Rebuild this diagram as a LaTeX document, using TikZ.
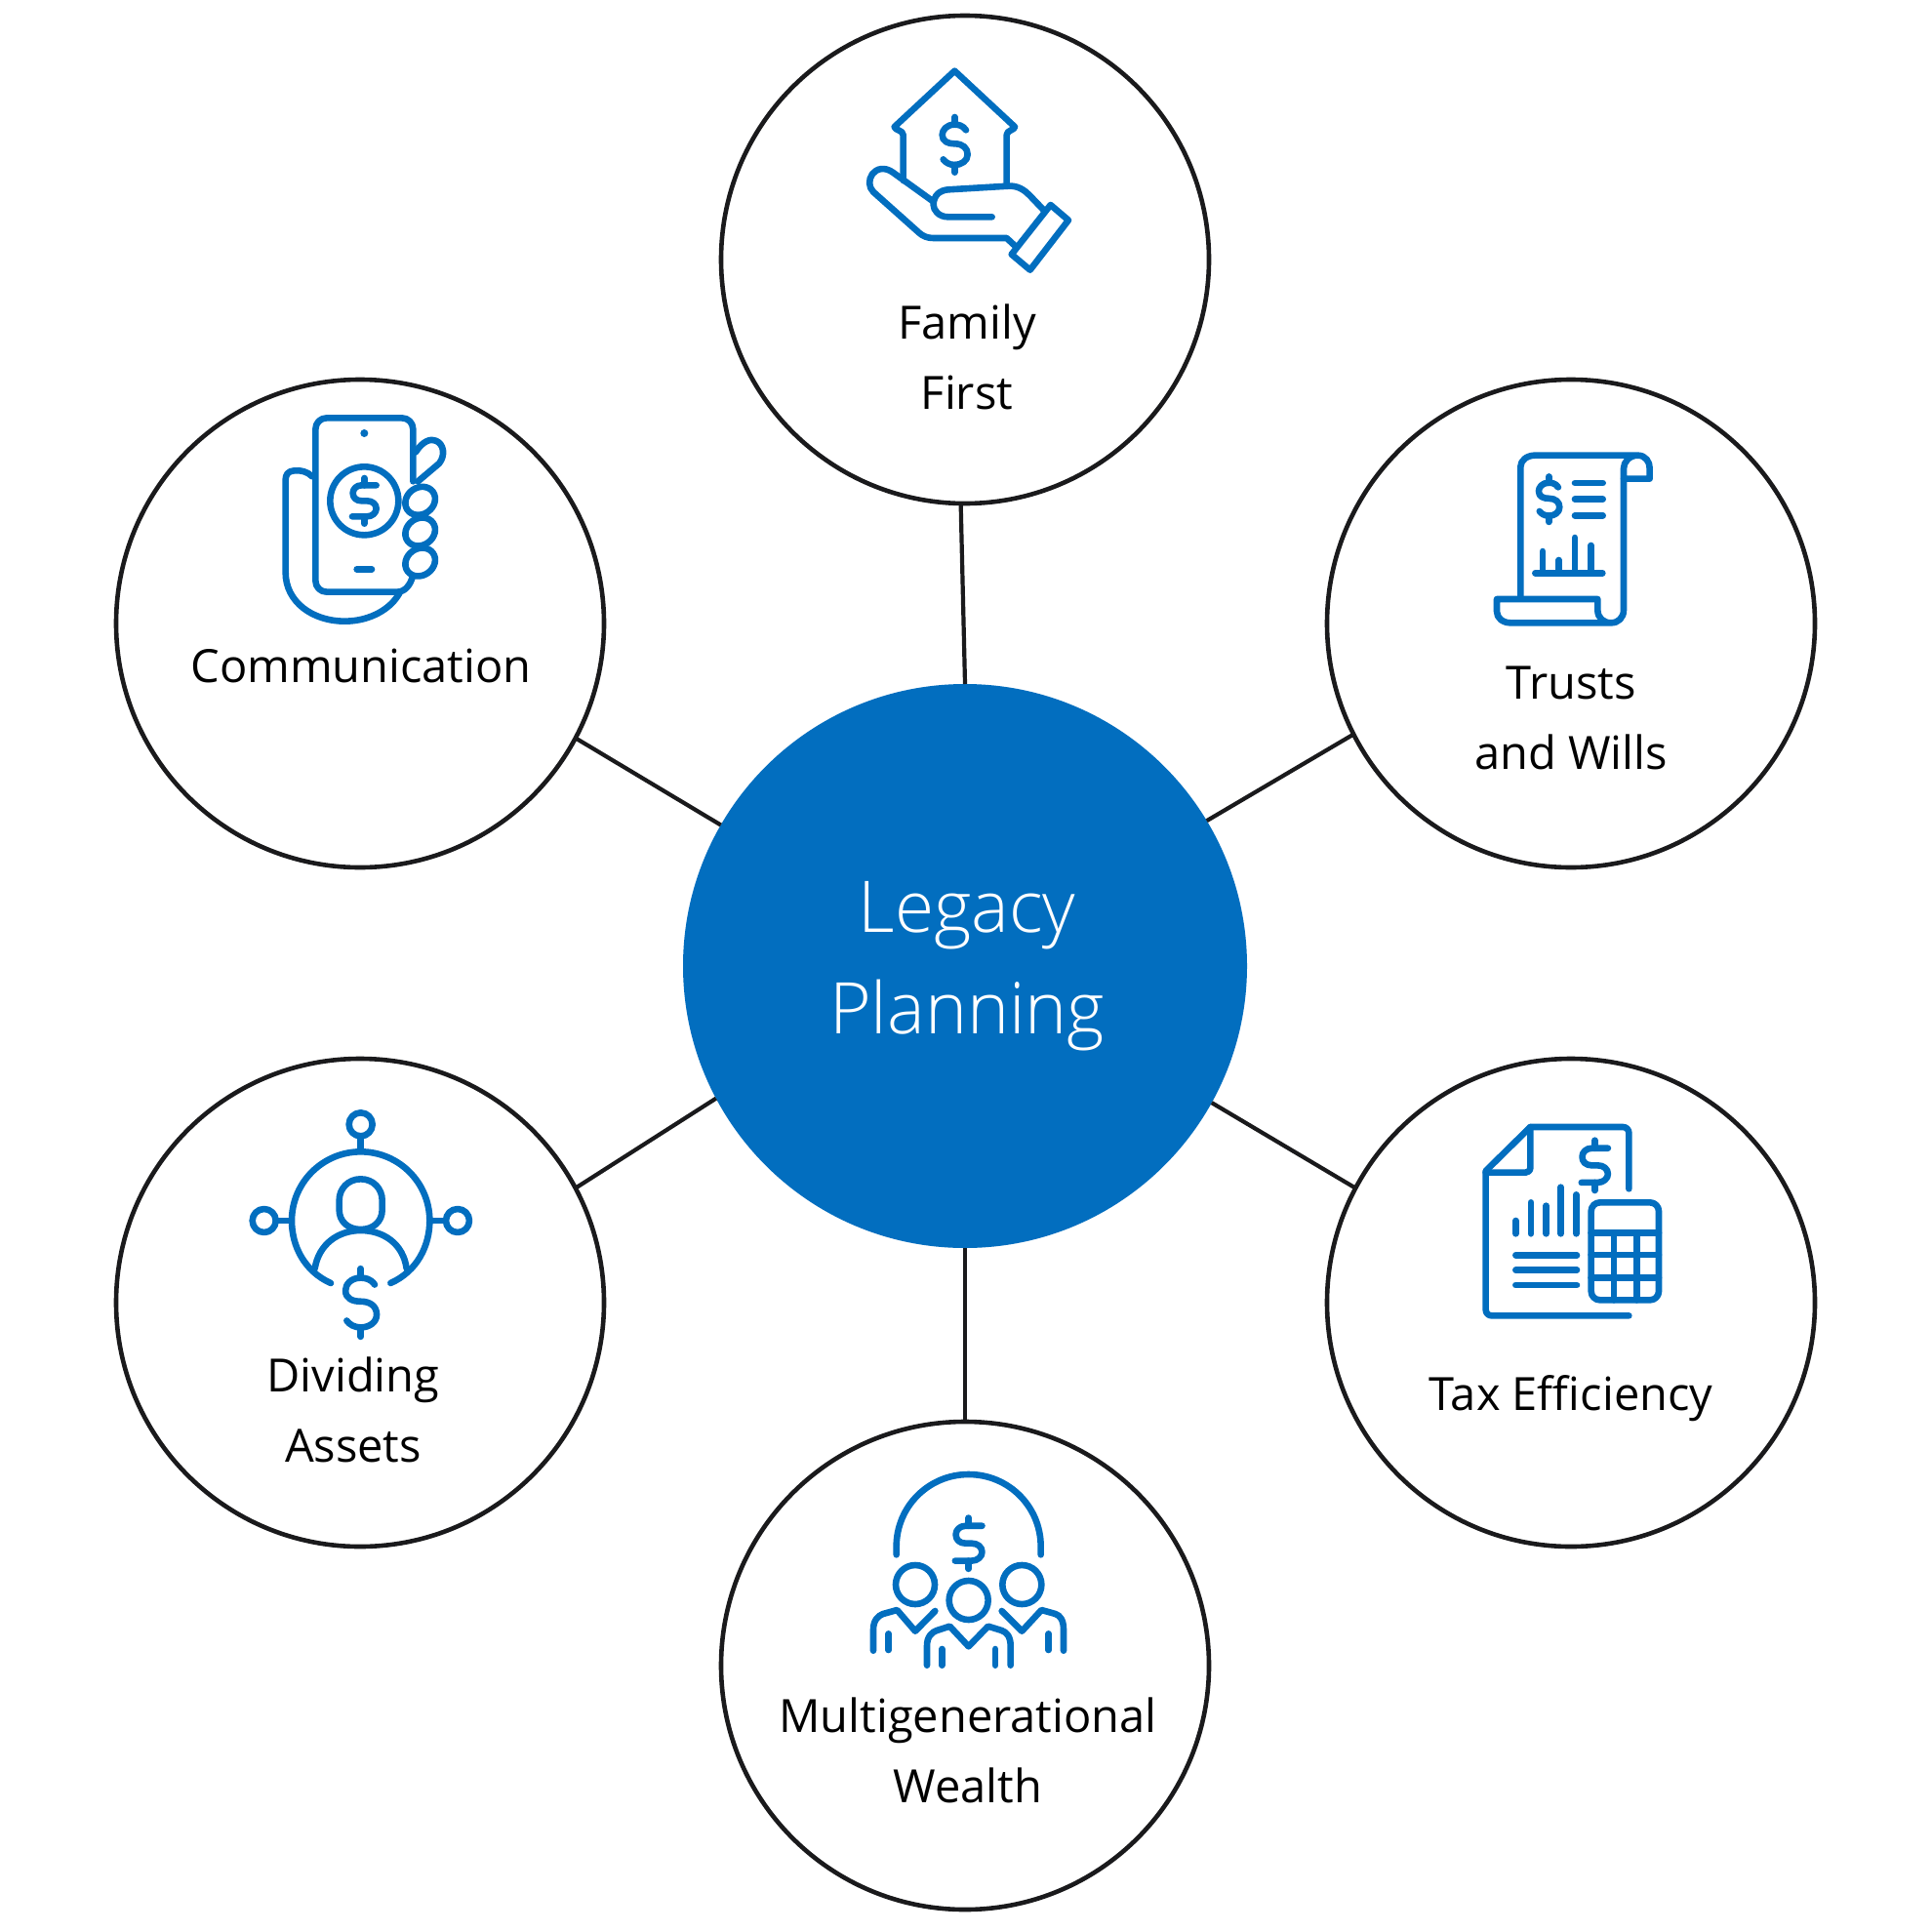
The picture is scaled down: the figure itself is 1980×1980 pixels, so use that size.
\documentclass[tikz,border=0pt]{standalone}
\usepackage{fontspec}
\setmainfont{Open Sans}
\newfontfamily\oslight{Open Sans Light}
\definecolor{iconblue}{HTML}{026EBF}
\definecolor{ringblack}{HTML}{1A1A1C}
\tikzset{
  ring/.style={circle,draw=ringblack,line width=4.6pt,fill=white,minimum size=500pt,inner sep=0pt,outer sep=0pt},
  hub/.style={circle,fill=iconblue,minimum size=578pt,inner sep=0pt,outer sep=0pt},
  link/.style={draw=ringblack,line width=4.2pt},
  lab/.style={align=center,text=black,font=\fontsize{47}{72}\selectfont,inner sep=0pt},
  hublab/.style={align=center,text=white,font=\oslight\fontsize{73}{104}\selectfont,inner sep=0pt},
  icon/.style={draw=iconblue,line width=6.6pt,line cap=round,line join=round},
  zoomed/.style={x=0.33333pt,y=-0.33333pt},
  dollarflat/.pic={
    \draw[icon] (37,-48) -- (-8,-48) .. controls (-25,-48) and (-35,-36) .. (-35,-24) .. controls (-35,-10) and (-25,0) .. (-8,0) -- (8,0) .. controls (25,0) and (37,10) .. (37,24) .. controls (37,36) and (25,48) .. (8,48) -- (-37,48);
    \draw[icon] (0,-70) -- (0,-48) (0,48) -- (0,70);
  },
  dollarcurly/.pic={
    \draw[icon] (35,-45) .. controls (25,-60) and (10,-62) .. (0,-62) .. controls (-25,-62) and (-38,-45) .. (-38,-30) .. controls (-38,-10) and (-20,-3) .. (0,-3) .. controls (25,-3) and (40,10) .. (40,30) .. controls (40,50) and (20,62) .. (0,62) .. controls (-15,62) and (-28,55) .. (-35,45);
    \draw[icon] (0,-85) -- (0,-62) (0,62) -- (0,85);
  }
}
\begin{document}
\begin{tikzpicture}[x=1pt,y=-1pt]
\useasboundingbox (0,0) rectangle (1980,1980);
\fill[white] (0,0) rectangle (1980,1980);

\node[hub] (hubc) at (989,990) {};
\node[ring] (top) at (989,266) {};
\node[ring] (tl) at (369,639) {};
\node[ring] (tr) at (1610,639) {};
\node[ring] (bl) at (369,1335) {};
\node[ring] (br) at (1610,1335) {};
\node[ring] (bot) at (989,1707) {};

\draw[link] (hubc.90.6) -- (top.269.3);
\draw[link] (hubc.150) -- (tl.332.4);
\draw[link] (hubc.31.5) -- (tr.207);
\draw[link] (hubc.208.8) -- (bl.28.5);
\draw[link] (hubc.331) -- (br.152);
\draw[link] (hubc.270) -- (bot.90);

\node[hublab] (hubtext) at (991,990) {Legacy\\Planning};
\node[lab] (t1) at (991,366) {Family\\First};
\node[lab] (t2) at (370,682) {Communication};
\node[lab] (t3) at (1610,736) {Trusts\\and Wills};
\node[lab] (t4) at (362,1445) {Dividing\\Assets};
\node[lab] (t5) at (1610,1433) {Tax Efficiency};
\node[lab] (t6) at (992,1794) {Multigenerational\\Wealth};

% Family First icon
\begin{scope}[shift={(860,50)},zoomed]
\draw[icon] (197,405) -- (197,265) .. controls (197,250) and (170,250) .. (170,240) -- (355,68) -- (540,240) .. controls (540,250) and (515,250) .. (515,265) -- (515,415);
\pic at (355,295) {dollarcurly};
\draw[icon] (290,470) -- (165,380) .. controls (140,362) and (115,368) .. (102,385) .. controls (90,402) and (90,425) .. (105,440) -- (245,565) .. controls (258,577) and (272,582) .. (290,582) -- (515,582) -- (545,610);
\draw[icon] (470,517) -- (335,517) .. controls (305,517) and (290,495) .. (290,480) .. controls (290,450) and (310,435) .. (335,433) -- (520,422) .. controls (550,420) and (570,435) .. (585,450) -- (630,497);
\draw[icon] (650,480) -- (705,527) -- (587,680) -- (530,632) -- cycle;
\end{scope}

% Communication icon
\begin{scope}[shift={(270,410)},zoomed]
\draw[icon] (460,250) -- (460,90) .. controls (460,70) and (445,55) .. (425,55) -- (195,55) .. controls (175,55) and (160,70) .. (160,90) -- (160,555) .. controls (160,575) and (175,590) .. (195,590) -- (410,590) .. controls (435,590) and (450,570) .. (458,545);
\fill[iconblue] (310,102) circle (12);
\draw[icon] (287,520) -- (333,520);
\draw[icon] (310,310) circle (105);
\pic at (310,310) {dollarflat};
\draw[icon] (150,235) .. controls (135,220) and (115,215) .. (95,217) .. controls (75,218) and (68,230) .. (68,245) -- (68,530) .. controls (68,620) and (150,680) .. (250,680) .. controls (330,680) and (395,640) .. (420,590);
\draw[icon] (468,160) .. controls (490,125) and (515,118) .. (530,125) .. controls (555,135) and (560,170) .. (540,195) -- (475,250);
\draw[icon] (482,310) ellipse [x radius=48,y radius=41,rotate=35];
\draw[icon] (482,405) ellipse [x radius=48,y radius=41,rotate=35];
\draw[icon] (482,498) ellipse [x radius=48,y radius=41,rotate=35];
\end{scope}

% Trusts and Wills icon
\begin{scope}[shift={(1510,450)},zoomed]
\draw[icon] (145,490) -- (145,85) .. controls (145,65) and (165,50) .. (190,50) -- (505,50) .. controls (530,50) and (542,70) .. (542,90) -- (542,122) -- (462,122) -- (462,90) .. controls (462,70) and (480,50) .. (505,50);
\draw[icon] (462,122) -- (462,525) .. controls (462,550) and (445,565) .. (423,565) .. controls (400,565) and (382,550) .. (382,525) -- (382,492) -- (72,492) -- (72,530) .. controls (72,550) and (90,565) .. (115,565) -- (423,565);
\draw[icon] (312,135) -- (398,135) (312,185) -- (398,185) (312,235) -- (398,235);
\pic[scale=0.82] at (232,185) {dollarcurly};
\draw[icon] (190,412) -- (397,412);
\draw[icon] (213,412) -- (213,345) (263,412) -- (263,372) (312,412) -- (312,303) (362,412) -- (362,327);
\end{scope}

% Tax Efficiency icon
\begin{scope}[shift={(1500,1135)},zoomed]
\draw[icon] (508,250) -- (508,78) .. controls (508,68) and (500,60) .. (490,60) -- (205,60) -- (68,195) -- (68,622) .. controls (68,632) and (76,640) .. (86,640) -- (508,640);
\draw[icon] (205,60) -- (205,185) .. controls (205,195) and (197,200) .. (190,200) -- (68,200);
\pic[scale=1.1] at (403,178) {dollarflat};
\draw[icon] (160,388) -- (160,348) (207,388) -- (207,292) (254,388) -- (254,302) (299,388) -- (299,245) (346,388) -- (346,268);
\draw[icon] (160,454) -- (348,454) (160,500) -- (348,500) (160,546) -- (348,546);
\draw[icon,rounded corners=9pt] (392,292) rectangle (600,592);
\draw[icon] (392,385) -- (600,385) (392,453) -- (600,453) (392,523) -- (600,523);
\draw[icon] (462,385) -- (462,592) (532,385) -- (532,592);
\end{scope}

% Multigenerational Wealth icon
\begin{scope}[shift={(870,1490)},zoomed]
\draw[icon] (146,310) -- (146,285) .. controls (146,162) and (245,63) .. (368,63) .. controls (491,63) and (590,162) .. (590,285) -- (590,310);
\pic[scale=1.12] at (368,275) {dollarflat};
\draw[icon] (204,402) circle (60) (532,402) circle (60) (368,450) circle (60);
\draw[icon] (75,605) -- (75,540) .. controls (75,512) and (90,497) .. (105,492) -- (148,480) -- (204,545) -- (265,483);
\draw[icon] (122,553) -- (122,603);
\draw[icon] (470,483) -- (532,545) -- (592,480) -- (635,492) .. controls (650,497) and (660,512) .. (660,540) -- (660,605);
\draw[icon] (614,553) -- (614,603);
\draw[icon] (240,650) -- (240,590) .. controls (240,562) and (255,548) .. (270,543) -- (310,530) -- (368,592) -- (428,530) -- (470,543) .. controls (485,548) and (497,562) .. (497,590) -- (497,650);
\draw[icon] (286,600) -- (286,650) (450,600) -- (450,650);
\end{scope}

% Dividing Assets icon
\begin{scope}[shift={(240,1125)},zoomed]
\draw[icon] (389,82) circle (36) (687,378) circle (36) (92,378) circle (36);
\draw[icon,line cap=butt] (389,118) -- (389,166) (128,378) -- (177,378) (601,378) -- (651,378);
\draw[icon] (297,570) .. controls (215,533) and (177,455) .. (177,378) .. controls (177,261) and (272,166) .. (389,166) .. controls (506,166) and (601,261) .. (601,378) .. controls (601,455) and (563,533) .. (481,570);
\draw[icon] (389,250) .. controls (350,250) and (323,280) .. (323,315) -- (323,345) .. controls (323,380) and (350,405) .. (389,405) .. controls (428,405) and (455,380) .. (455,345) -- (455,315) .. controls (455,280) and (428,250) .. (389,250) -- cycle;
\draw[icon] (248,525) .. controls (260,450) and (320,408) .. (389,408) .. controls (460,408) and (520,450) .. (530,525);
\pic[scale=1.23] at (389,630) {dollarcurly};
\end{scope}
\end{tikzpicture}
\end{document}
